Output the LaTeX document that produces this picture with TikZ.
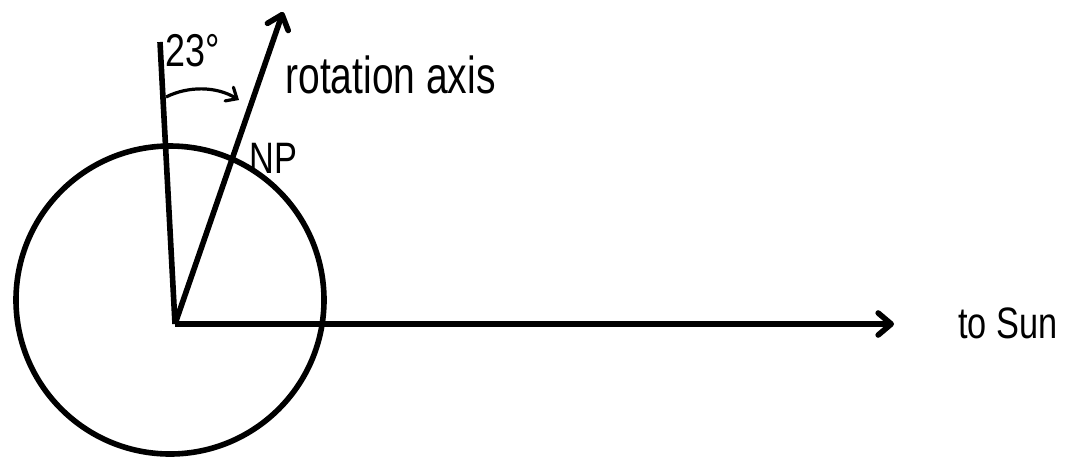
\documentclass[tikz,border=0pt]{standalone}
\usepackage{fontspec}
\setmainfont{Liberation Sans}
\usetikzlibrary{arrows.meta}
\newcommand{\narrowtxt}[1]{\scalebox{0.78}[1]{#1}}

\begin{document}
\begin{tikzpicture}[x=0.5pt, y=-0.5pt,
  thickline/.style={line width=2.8pt},
  arr/.style={thickline, -{Straight Barb[length=6.5pt, width=11pt, line cap=round, line join=round]}},
  lbl/.style={anchor=base west, inner sep=0pt, font=\fontsize{22}{26}\selectfont}]
\useasboundingbox (0,0) rectangle (1066,457);
% earth and axes
\draw[thickline] (170,300) circle[radius=77pt];
\coordinate (O) at (175,324);
\coordinate (tilt) at (160,42);
\coordinate (axis) at (283,12);
\coordinate (sun) at (894,324);
\draw[thickline] (O) -- (tilt);
\draw[arr] (O) -- (axis);
\draw[arr] (O) -- (sun);
% tilt angle
\coordinate (a1) at (166,97);
\coordinate (a2) at (239,100);
\draw[line width=1.6pt, -{Straight Barb[length=4.5pt, width=8pt, line cap=round]}]
  (a1) .. controls (188,86) and (216,86) .. (a2);
\node[lbl, font=\fontsize{23}{27}\selectfont] (ang) at (165,66) {\narrowtxt{23°}};
\node[lbl, font=\fontsize{26}{30}\selectfont] (rot) at (285,93)
  {\scalebox{0.75}[1]{rotation axis}};
\node[lbl] (np) at (249,173) {\narrowtxt{NP}};
\node[lbl] (tosun) at (958,338) {\narrowtxt{to Sun}};
\end{tikzpicture}
\end{document}
